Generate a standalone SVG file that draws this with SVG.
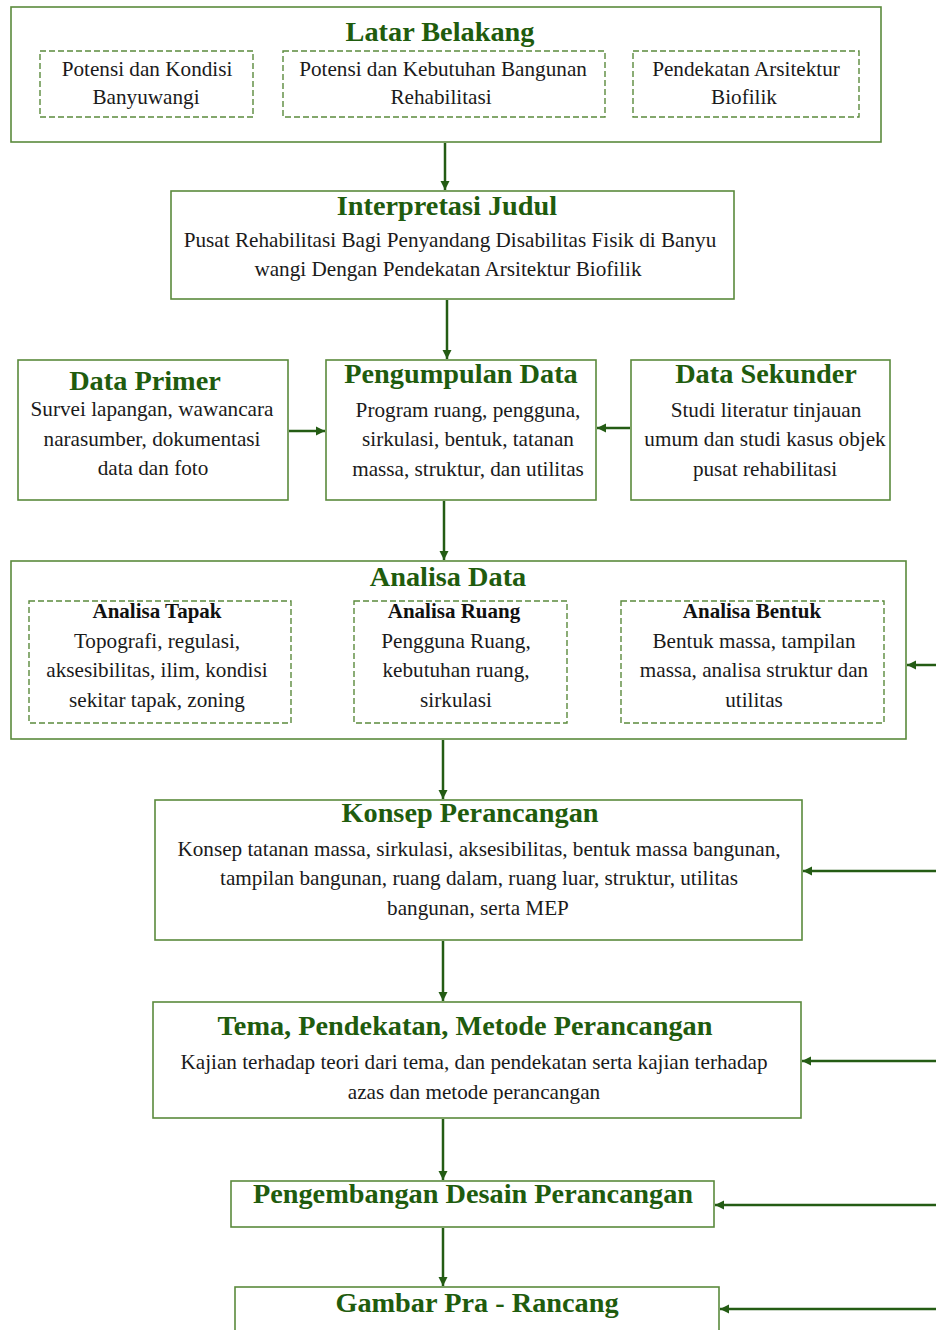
<svg xmlns="http://www.w3.org/2000/svg" width="936" height="1330" viewBox="0 0 936 1330">
<style>
.box{fill:#fff;stroke:#5b8a3c;stroke-width:1.6}
.dash{fill:none;stroke:#5b8a3c;stroke-width:1.4;stroke-dasharray:6,3}
.title{font-family:"Liberation Serif",serif;font-weight:bold;font-size:28.3px;fill:#1f5c0e;text-anchor:middle}
.sub{font-family:"Liberation Serif",serif;font-weight:bold;font-size:21px;fill:#111;text-anchor:middle}
.body{font-family:"Liberation Serif",serif;font-size:21.2px;fill:#1a1a1a;text-anchor:middle}
.conn{stroke:#245c14;stroke-width:2.5;fill:none;marker-end:url(#ah)}
</style>
<defs>
<marker id="ah" markerUnits="userSpaceOnUse" markerWidth="10" markerHeight="10" refX="9" refY="5" orient="auto">
<path d="M0,0.5 L9,5 L0,9.5 Z" fill="#245c14"/>
</marker>
</defs>
<rect width="936" height="1330" fill="#fff"/>

<g id="latar-belakang">
<rect class="box" x="11" y="7" width="870" height="135"/>
<text class="title" x="440" y="41">Latar Belakang</text>
<rect class="dash" x="40" y="51" width="213" height="66"/>
<text class="body" x="147" y="76">Potensi dan Kondisi</text>
<text class="body" x="146" y="104">Banyuwangi</text>
<rect class="dash" x="283" y="51" width="322" height="66"/>
<text class="body" x="443" y="76">Potensi dan Kebutuhan Bangunan</text>
<text class="body" x="441" y="104">Rehabilitasi</text>
<rect class="dash" x="633" y="51" width="226" height="66"/>
<text class="body" x="746" y="76">Pendekatan Arsitektur</text>
<text class="body" x="744" y="104">Biofilik</text>
</g>

<g id="interpretasi-judul">
<rect class="box" x="171" y="191" width="563" height="108"/>
<text class="title" x="447" y="215">Interpretasi Judul</text>
<text class="body" x="450" y="247">Pusat Rehabilitasi Bagi Penyandang Disabilitas Fisik di Banyu</text>
<text class="body" x="448" y="276">wangi Dengan Pendekatan Arsitektur Biofilik</text>
</g>

<g id="data-primer">
<rect class="box" x="18" y="360" width="270" height="140"/>
<text class="title" x="145" y="390">Data Primer</text>
<text class="body" x="152" y="416">Survei lapangan, wawancara</text>
<text class="body" x="152" y="446">narasumber, dokumentasi</text>
<text class="body" x="153" y="475">data dan foto</text>
</g>

<g id="pengumpulan-data">
<rect class="box" x="326" y="360" width="270" height="140"/>
<text class="title" x="461" y="383">Pengumpulan Data</text>
<text class="body" x="468" y="417">Program ruang, pengguna,</text>
<text class="body" x="468" y="446">sirkulasi, bentuk, tatanan</text>
<text class="body" x="468" y="476">massa, struktur, dan utilitas</text>
</g>

<g id="data-sekunder">
<rect class="box" x="631" y="360" width="259" height="140"/>
<text class="title" x="766" y="383">Data Sekunder</text>
<text class="body" x="766" y="417">Studi literatur tinjauan</text>
<text class="body" x="765" y="446">umum dan studi kasus objek</text>
<text class="body" x="765" y="476">pusat rehabilitasi</text>
</g>

<g id="analisa-data">
<rect class="box" x="11" y="561" width="895" height="178"/>
<text class="title" x="448" y="586">Analisa Data</text>
<rect class="dash" x="29" y="601" width="262" height="122"/>
<text class="sub" x="157" y="618">Analisa Tapak</text>
<text class="body" x="157" y="648">Topografi, regulasi,</text>
<text class="body" x="157" y="677">aksesibilitas, ilim, kondisi</text>
<text class="body" x="157" y="707">sekitar tapak, zoning</text>
<rect class="dash" x="354" y="601" width="213" height="122"/>
<text class="sub" x="454" y="618">Analisa Ruang</text>
<text class="body" x="456" y="648">Pengguna Ruang,</text>
<text class="body" x="456" y="677">kebutuhan ruang,</text>
<text class="body" x="456" y="707">sirkulasi</text>
<rect class="dash" x="621" y="601" width="263" height="122"/>
<text class="sub" x="752" y="618">Analisa Bentuk</text>
<text class="body" x="754" y="648">Bentuk massa, tampilan</text>
<text class="body" x="754" y="677">massa, analisa struktur dan</text>
<text class="body" x="754" y="707">utilitas</text>
</g>

<g id="konsep-perancangan">
<rect class="box" x="155" y="800" width="647" height="140"/>
<text class="title" x="470" y="822">Konsep Perancangan</text>
<text class="body" x="479" y="856">Konsep tatanan massa, sirkulasi, aksesibilitas, bentuk massa bangunan,</text>
<text class="body" x="479" y="885">tampilan bangunan, ruang dalam, ruang luar, struktur, utilitas</text>
<text class="body" x="478" y="915">bangunan, serta MEP</text>
</g>

<g id="tema-pendekatan">
<rect class="box" x="153" y="1002" width="648" height="116"/>
<text class="title" x="465" y="1035">Tema, Pendekatan, Metode Perancangan</text>
<text class="body" x="474" y="1069">Kajian terhadap teori dari tema, dan pendekatan serta kajian terhadap</text>
<text class="body" x="474" y="1099">azas dan metode perancangan</text>
</g>

<g id="pengembangan-desain">
<rect class="box" x="231" y="1181" width="483" height="46"/>
<text class="title" x="473" y="1203">Pengembangan Desain Perancangan</text>
</g>

<g id="gambar-pra-rancang">
<rect class="box" x="235" y="1287" width="484" height="60"/>
<text class="title" x="477" y="1312">Gambar Pra - Rancang</text>
</g>

<g id="connectors">
<line class="conn" x1="445" y1="143" x2="445" y2="190"/>
<line class="conn" x1="447" y1="300" x2="447" y2="359"/>
<line class="conn" x1="289" y1="431" x2="325" y2="431"/>
<line class="conn" x1="630" y1="428" x2="597" y2="428"/>
<line class="conn" x1="444" y1="501" x2="444" y2="560"/>
<line class="conn" x1="936" y1="665" x2="907" y2="665"/>
<line class="conn" x1="443" y1="740" x2="443" y2="799"/>
<line class="conn" x1="936" y1="871" x2="803" y2="871"/>
<line class="conn" x1="443" y1="941" x2="443" y2="1001"/>
<line class="conn" x1="936" y1="1061" x2="802" y2="1061"/>
<line class="conn" x1="443" y1="1119" x2="443" y2="1180"/>
<line class="conn" x1="936" y1="1205" x2="715" y2="1205"/>
<line class="conn" x1="443" y1="1228" x2="443" y2="1286"/>
<line class="conn" x1="936" y1="1309" x2="720" y2="1309"/>
</g>
</svg>
